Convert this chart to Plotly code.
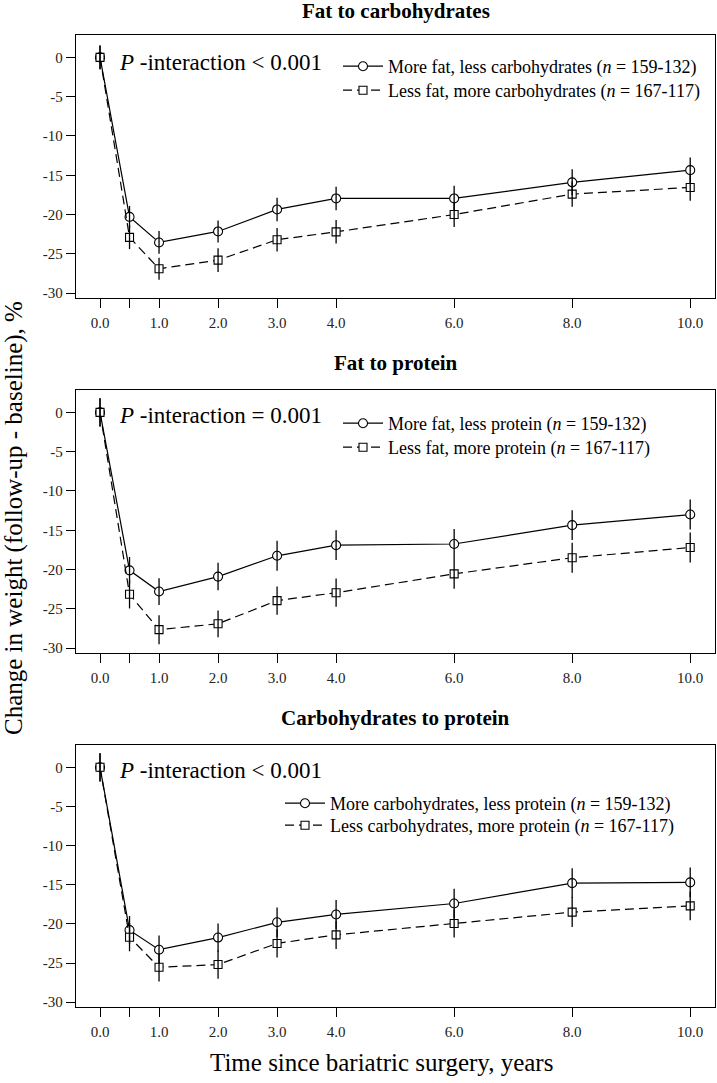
import plotly.graph_objects as go

years = [0, 0.5, 1, 2, 3, 4, 6, 8, 10]
tick_vals_x = [0, 0.5, 1, 2, 3, 4, 6, 8, 10]
tick_text_x = ["0.0", "", "1.0", "2.0", "3.0", "4.0", "6.0", "8.0", "10.0"]
tick_vals_y = [0, -5, -10, -15, -20, -25, -30]
tick_text_y = ["0", "-5", "-10", "-15", "-20", "-25", "-30"]

panel_titles = ["Fat to carbohydrates", "Fat to protein", "Carbohydrates to protein"]
p_texts = ["<i>P</i> -interaction &lt; 0.001", "<i>P</i> -interaction = 0.001", "<i>P</i> -interaction &lt; 0.001"]

names_a = ["More fat, less carbohydrates (<i>n</i> = 159-132)",
           "More fat, less protein (<i>n</i> = 159-132)",
           "More carbohydrates, less protein (<i>n</i> = 159-132)"]
names_b = ["Less fat, more carbohydrates (<i>n</i> = 167-117)",
           "Less fat, more protein (<i>n</i> = 167-117)",
           "Less carbohydrates, more protein (<i>n</i> = 167-117)"]

# Panel 1: Fat to carbohydrates
p1_a = [0, -20.3, -23.55, -22.15, -19.35, -17.95, -17.95, -15.9, -14.35]
p1_a_err = [1.5, 1.4, 1.45, 1.4, 1.5, 1.5, 1.6, 1.65, 1.6]
p1_b = [0, -22.9, -26.9, -25.8, -23.2, -22.2, -20.0, -17.4, -16.55]
p1_b_err = [1.5, 1.5, 1.4, 1.5, 1.5, 1.5, 1.6, 1.6, 1.7]
# Panel 2: Fat to protein
p2_a = [0, -20.1, -22.8, -20.9, -18.25, -16.9, -16.75, -14.35, -13.0]
p2_a_err = [1.8, 1.7, 1.7, 1.75, 1.9, 1.9, 1.9, 1.9, 1.9]
p2_b = [0, -23.15, -27.65, -26.9, -23.95, -22.95, -20.55, -18.5, -17.2]
p2_b_err = [1.8, 1.8, 1.85, 1.7, 1.8, 1.8, 1.9, 1.9, 1.9]
# Panel 3: Carbohydrates to protein
p3_a = [0, -20.8, -23.3, -21.75, -19.8, -18.8, -17.4, -14.8, -14.7]
p3_a_err = [1.8, 1.8, 1.8, 1.8, 1.9, 1.85, 1.9, 1.9, 1.9]
p3_b = [0, -21.7, -25.55, -25.2, -22.5, -21.4, -19.95, -18.5, -17.7]
p3_b_err = [1.8, 1.8, 1.8, 1.8, 1.8, 1.8, 1.8, 1.9, 1.85]

series_a = [p1_a, p2_a, p3_a]
series_a_err = [p1_a_err, p2_a_err, p3_a_err]
series_b = [p1_b, p2_b, p3_b]
series_b_err = [p1_b_err, p2_b_err, p3_b_err]

W, H = 717, 1083
ML, MR, MT, MB = 76, 2, 35, 76
PW = W - ML - MR
PH = H - MT - MB

def py(px):
    return (H - MB - px) / PH

def pxx(px):
    return (px - ML) / PW

panel_px = [(35, 298), (390, 653), (745, 1007)]
title_px = [11, 363, 718]
pint_px = [62, 415, 770]
# (legend left x, row1 top, row2 top) in pixels
legend_pos = [(338, 48, 72), (338, 405, 429), (280, 785, 807)]

FONT = "Liberation Serif"

fig = go.Figure()
layout = dict(
    width=W, height=H,
    margin=dict(l=ML, r=MR, t=MT, b=MB),
    paper_bgcolor="white", plot_bgcolor="white",
    font=dict(family=FONT, color="black"),
    showlegend=True,
)
annotations = []

def legend_cfg(x, y):
    return dict(
        x=pxx(x), y=py(y), xanchor="left", yanchor="top",
        xref="paper", yref="paper",
        bgcolor="rgba(0,0,0,0)", borderwidth=0,
        font=dict(family=FONT, size=18, color="black"),
        itemwidth=40,
    )

for i in range(3):
    ax = "" if i == 0 else str(i + 1)
    xa, ya = "x" + ax, "y" + ax
    leg_a = "legend" if i == 0 else "legend" + str(2 * i + 1)
    leg_b = "legend" + str(2 * i + 2)
    fig.add_trace(go.Scatter(
        x=years, y=series_a[i], mode="lines+markers", name=names_a[i],
        line=dict(color="black", width=1.2),
        marker=dict(symbol="circle", size=9, color="white", line=dict(color="black", width=1.1)),
        xaxis=xa, yaxis=ya, legend=leg_a,
    ))
    fig.add_trace(go.Scatter(
        x=years, y=series_b[i], mode="lines+markers", name=names_b[i],
        line=dict(color="black", width=1.2, dash="9px,5px"),
        marker=dict(symbol="square", size=8, color="white", line=dict(color="black", width=1.1)),
        xaxis=xa, yaxis=ya, legend=leg_b,
    ))
    for vals, errs in ((series_a[i], series_a_err[i]), (series_b[i], series_b_err[i])):
        fig.add_trace(go.Scatter(
            x=years, y=vals, mode="markers", showlegend=False, hoverinfo="skip",
            marker=dict(size=1, color="rgba(0,0,0,0)"),
            error_y=dict(type="data", array=errs, visible=True, color="black", thickness=1.3, width=0),
            xaxis=xa, yaxis=ya,
        ))
    top, bot = panel_px[i]
    layout["xaxis" + ax] = dict(
        domain=[0, 1], anchor=ya, range=[-0.407, 10.42],
        tickmode="array", tickvals=tick_vals_x, ticktext=tick_text_x,
        ticks="outside", ticklen=9, tickwidth=1.2, tickcolor="black",
        showline=True, linecolor="black", linewidth=1.3, mirror=True,
        showgrid=False, zeroline=False, ticklabelstandoff=2,
        tickfont=dict(family=FONT, size=15, color="#222"),
    )
    layout["yaxis" + ax] = dict(
        domain=[py(bot), py(top)], anchor=xa, range=[-30.62, 2.85],
        tickmode="array", tickvals=tick_vals_y, ticktext=tick_text_y,
        ticks="outside", ticklen=9, tickwidth=1.2, tickcolor="black",
        showline=True, linecolor="black", linewidth=1.3, mirror=True,
        showgrid=False, zeroline=False,
        tickfont=dict(family=FONT, size=15, color="#222"),
    )
    lx, ly1, ly2 = legend_pos[i]
    layout[leg_a] = legend_cfg(lx, ly1)
    layout[leg_b] = legend_cfg(lx, ly2)
    annotations.append(dict(
        text="<b>" + panel_titles[i] + "</b>", x=0.5, y=py(title_px[i]),
        xref="paper", yref="paper", xanchor="center", yanchor="middle",
        showarrow=False, font=dict(family=FONT, size=21, color="black"),
    ))
    annotations.append(dict(
        text=p_texts[i], x=pxx(117), y=py(pint_px[i]),
        xref="paper", yref="paper", xanchor="left", yanchor="middle",
        showarrow=False, font=dict(family=FONT, size=23, color="black"),
    ))

annotations.append(dict(
    text="Time since bariatric surgery, years", x=pxx(381.7), y=py(1062),
    xref="paper", yref="paper", xanchor="center", yanchor="middle",
    showarrow=False, font=dict(family=FONT, size=25, color="black"),
))
annotations.append(dict(
    text="Change in weight (follow-up - baseline), %", x=pxx(14), y=py(518),
    xref="paper", yref="paper", xanchor="center", yanchor="middle", textangle=-90,
    showarrow=False, font=dict(family=FONT, size=25, color="black"),
))
layout["annotations"] = annotations
fig.update_layout(**layout)
fig.write_html("out.html", config={"displayModeBar": False},
               post_script="document.body.style.margin='0px';")
